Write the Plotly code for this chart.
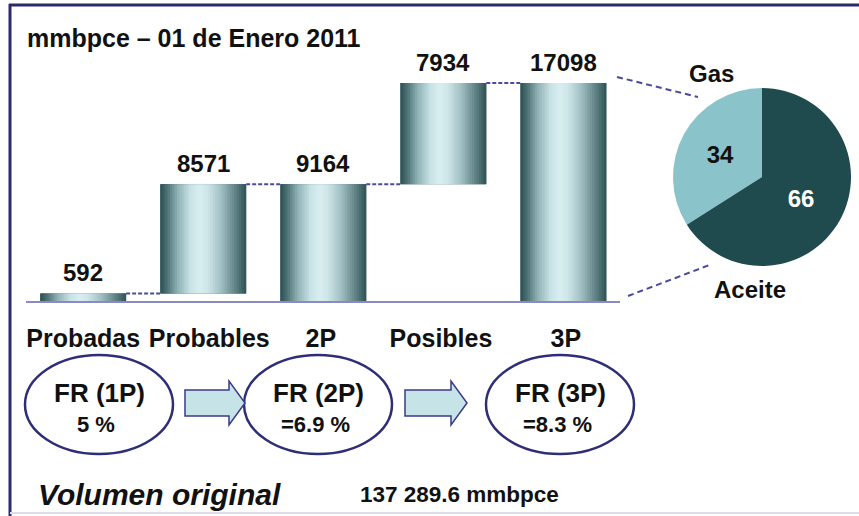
import plotly.graph_objects as go
from plotly.colors import sample_colorscale

# ---------------- data ----------------
categories = ["Probadas", "Probables", "2P", "Posibles", "3P"]
values = [592, 8571, 9164, 7934, 17098]
measures = ["relative", "relative", "total", "relative", "total"]

pie_labels = ["Gas", "Aceite"]
pie_values = [34, 66]

fr_titles = ["FR (1P)", "FR (2P)", "FR (3P)"]
fr_values = ["5 %", "=6.9 %", "=8.3 %"]

title_text = "mmbpce – 01 de Enero 2011"
volumen_label = "Volumen original"
volumen_value = "137 289.6 mmbpce"

# ---------------- helpers ----------------
W, H = 859, 516
def px(x):
    return x / W
def py(y):
    return 1 - y / H

FONT = "Liberation Sans, Arial, sans-serif"

# waterfall bases / tops
bases, tops = [], []
running = 0
for v, m in zip(values, measures):
    if m == "total":
        bases.append(0)
        tops.append(v)
        running = v
    else:
        bases.append(running)
        running += v
        tops.append(running)

xpos = list(range(len(categories)))
tick_nudge = [0.0, 0.05, -0.02, -0.02, 0.02]   # small label placement tweaks
BW = 0.715  # bar width in category units

fig = go.Figure()

# base bar (dark) carrying the data
fig.add_trace(go.Bar(x=xpos, y=values, base=bases, width=BW,
                     marker=dict(color="#2c4f53", line=dict(width=0)),
                     hoverinfo="skip", showlegend=False))

# horizontal gradient made of narrow overlaid strips
grad = [[0.0, "#2c4f53"], [0.08, "#4d7174"], [0.2, "#8fb1b4"], [0.35, "#c8e2e5"],
        [0.45, "#d8eef1"], [0.55, "#cfe6e9"], [0.7, "#a3c2c5"], [0.85, "#6a8c8f"],
        [1.0, "#2f5256"]]
N = 36
cols = sample_colorscale(grad, [(k + 0.5) / N for k in range(N)])
for k in range(N):
    off = -BW / 2 + k * BW / N
    wdt = min(BW / N * 1.4, BW / 2 - off)
    fig.add_trace(go.Bar(x=xpos, y=values, base=bases, width=wdt, offset=off,
                         marker=dict(color=cols[k], line=dict(width=0)),
                         hoverinfo="skip", showlegend=False))

# dashed connectors between bars
for i in range(len(categories) - 1):
    lvl = tops[i]
    fig.add_trace(go.Scatter(x=[xpos[i] + BW / 2, xpos[i + 1] - BW / 2], y=[lvl, lvl],
                             mode="lines", line=dict(color="#4b4b9b", width=2, dash="4px,2px"),
                             hoverinfo="skip", showlegend=False))

# value labels
for i, v in enumerate(values):
    fig.add_annotation(x=xpos[i], y=tops[i], xref="x", yref="y", text=f"<b>{v}</b>",
                       showarrow=False, xanchor="center", yanchor="middle", yshift=21,
                       font=dict(family=FONT, size=24, color="#111111"))

# pie (Gas drawn counter-clockwise from 12 o'clock)
gas_angle = 360 * pie_values[0] / sum(pie_values)
fig.add_trace(go.Pie(labels=pie_labels, values=pie_values, sort=False,
                     direction="clockwise", rotation=360 - gas_angle,
                     marker=dict(colors=["#8ac4ca", "#1f4a4e"], line=dict(width=0)),
                     textinfo="value", textposition="inside",
                     insidetextorientation="horizontal",
                     texttemplate="<b>%{value}</b>",
                     textfont=dict(family=FONT, size=24, color=["#111111", "#ffffff"]),
                     domain=dict(x=[px(673), px(851)], y=[py(266), py(88)]),
                     hoverinfo="skip", showlegend=False))

# axes
x_lo = (26 - 83.2) / 120.05
x_hi = (620 - 83.2) / 120.05
y_scale = 0.01275
y_top_px, y_base_px = 31, 301
fig.update_layout(
    width=W, height=H, margin=dict(l=0, r=0, t=0, b=0),
    paper_bgcolor="white", plot_bgcolor="rgba(0,0,0,0)",
    barmode="overlay", showlegend=False,
    xaxis=dict(domain=[px(26), px(620)], range=[x_lo, x_hi], showgrid=False,
               zeroline=False, showline=True, linecolor="#8a8ac4", linewidth=1.5,
               tickvals=[p + d for p, d in zip(xpos, tick_nudge)],
               ticktext=[f"<b>{c}</b>" for c in categories],
               ticks="", ticklabelstandoff=14,
               tickfont=dict(family=FONT, size=25, color="#111111"), fixedrange=True),
    yaxis=dict(domain=[py(y_base_px), py(y_top_px)],
               range=[0, (y_base_px - y_top_px) / y_scale], visible=False, fixedrange=True),
)

shapes = []
# frame
shapes.append(dict(type="line", xref="paper", yref="paper", x0=px(10), x1=px(10),
                   y0=py(4), y1=py(516), line=dict(color="#2b2b6b", width=3)))
shapes.append(dict(type="line", xref="paper", yref="paper", x0=px(9), x1=px(859),
                   y0=py(5), y1=py(5), line=dict(color="#2b2b6b", width=3)))
shapes.append(dict(type="line", xref="paper", yref="paper", x0=px(10), x1=px(859),
                   y0=py(513), y1=py(513), line=dict(color="#dcdcee", width=2)))
# pie connector lines
shapes.append(dict(type="line", xref="paper", yref="paper", x0=px(617), y0=py(77),
                   x1=px(698), y1=py(97), line=dict(color="#4a4a9a", width=2, dash="6px,4px")))
shapes.append(dict(type="line", xref="paper", yref="paper", x0=px(628), y0=py(296),
                   x1=px(712), y1=py(264), line=dict(color="#4a4a9a", width=2, dash="6px,4px")))

# ellipses
ell_centers = [99, 318, 560]
for cx in ell_centers:
    shapes.append(dict(type="circle", xref="paper", yref="paper",
                       x0=px(cx - 74), x1=px(cx + 74), y0=py(355), y1=py(454),
                       line=dict(color="#2e2e78", width=2.5), fillcolor="rgba(0,0,0,0)"))

# arrows
def arrow_path(x0, x1, xh, yc, bh, hh):
    pts = [(x0, yc - bh), (xh, yc - bh), (xh, yc - hh), (x1, yc), (xh, yc + hh),
           (xh, yc + bh), (x0, yc + bh)]
    d = "M " + " L ".join(f"{px(a):.5f},{py(b):.5f}" for a, b in pts) + " Z"
    return d
for (ax0, ax1) in [(185, 245), (405, 467)]:
    shapes.append(dict(type="path", xref="paper", yref="paper",
                       path=arrow_path(ax0, ax1, ax1 - 16, 403, 13, 22),
                       fillcolor="#c6e4e8", line=dict(color="#3a3a8a", width=1.5)))
fig.update_layout(shapes=shapes)

# texts
def text(x, y, s, size, xanchor="center", family=FONT):
    fig.add_annotation(x=px(x), y=py(y), xref="paper", yref="paper", xanchor=xanchor,
                       yanchor="middle", showarrow=False, text=s,
                       font=dict(family=family, size=size, color="#111111"))

text(25, 38, f"<b>{title_text}</b>", 25, xanchor="left")
for cx, t, v in zip(ell_centers, fr_titles, fr_values):
    text(cx, 393, f"<b>{t}</b>", 26)
    text(cx - 3, 424, f"<b>{v}</b>", 22)

text(711, 73, f"<b>{pie_labels[0]}</b>", 24)
text(750, 289, f"<b>{pie_labels[1]}</b>", 24)

text(36, 494, f"<b><i>{volumen_label}</i></b>", 30, xanchor="left")
text(358, 494, f"<b>{volumen_value}</b>", 22.5, xanchor="left")

fig.write_html("out.html", config={"displayModeBar": False},
               post_script="document.body.style.margin='0px';")
